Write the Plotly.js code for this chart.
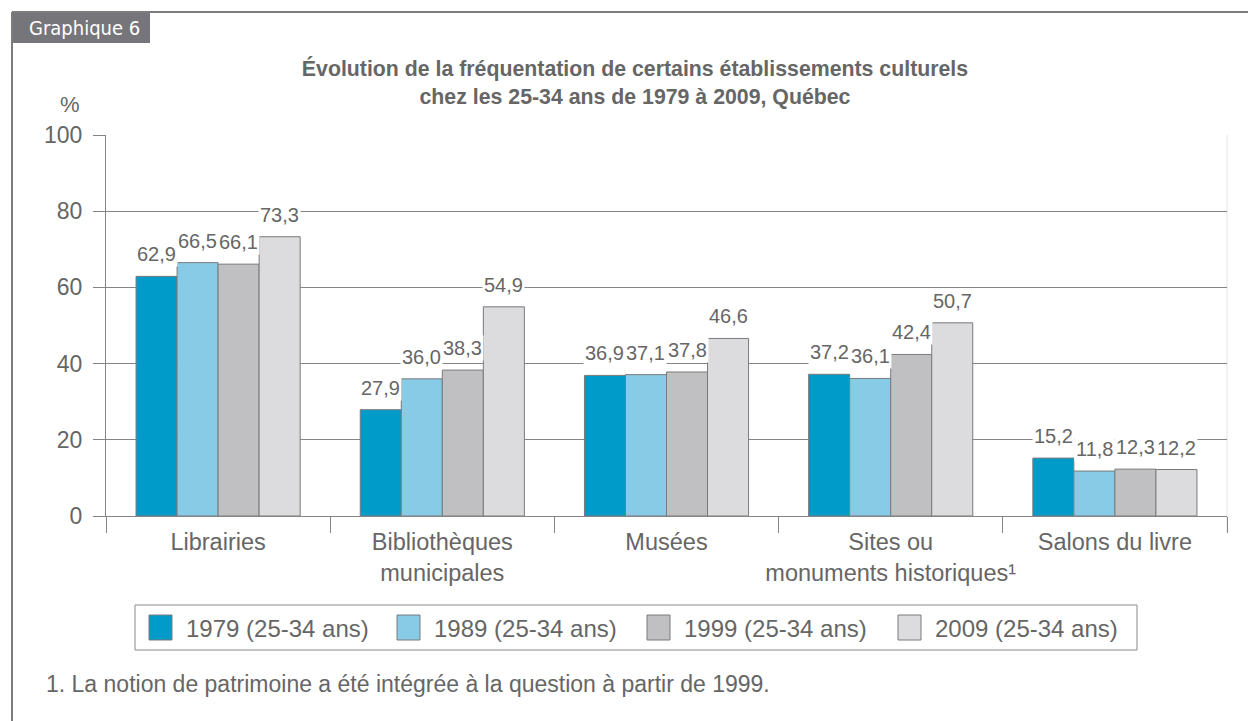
<!DOCTYPE html>
<html>
<head>
<meta charset="utf-8">
<script src="https://cdn.plot.ly/plotly-3.0.1.min.js"></script>
<style>
html,body{margin:0;padding:0;background:#fff;}
#chart{width:1248px;height:721px;}
</style>
</head>
<body>
<div id="chart"></div>
<script>
// ---- data ----
const categories = ['Librairies', 'Bibliothèques<br>municipales', 'Musées', 'Sites ou<br>monuments historiques¹', 'Salons du livre'];
const seriesNames = ['1979 (25-34 ans)', '1989 (25-34 ans)', '1999 (25-34 ans)', '2009 (25-34 ans)'];
const values1979 = [62.9, 27.9, 36.9, 37.2, 15.2];
const values1989 = [66.5, 36.0, 37.1, 36.1, 11.8];
const values1999 = [66.1, 38.3, 37.8, 42.4, 12.3];
const values2009 = [73.3, 54.9, 46.6, 50.7, 12.2];
const yTickVals = [0, 20, 40, 60, 80, 100];
const titleText = 'Évolution de la fréquentation de certains établissements culturels<br>chez les 25-34 ans de 1979 à 2009, Québec';
const footnoteText = '1. La notion de patrimoine a été intégrée à la question à partir de 1999.';
const tabText = 'Graphique 6';

// ---- style ----
const colors = ['#009bc9', '#87cbe6', '#c0c0c2', '#dcdcde'];
const textColor = '#666666';
const lineColor = '#858585';
const FONT = 'Liberation Sans, Arial, Helvetica, sans-serif';
const W = 1248, H = 721;
const M = {l: 106, r: 21, t: 135, b: 205};
const plotW = W - M.l - M.r, plotH = H - M.t - M.b;
const bargap = 0.268;
const allValues = [values1979, values1989, values1999, values2009];

// px -> paper helpers (for decorations only)
const px = x => (x - M.l) / plotW;
const py = y => (H - M.b - y) / plotH;

const traces = allValues.map((vals, i) => ({
  type: 'bar',
  name: seriesNames[i],
  x: categories,
  y: vals,
  marker: {color: colors[i], line: {color: '#7a7a7a', width: 1}},
  hoverinfo: 'x+y+name',
  showlegend: false
}));

// data labels as annotations (white background hides gridlines like the original)
const catW = plotW / categories.length;
const barW = catW * (1 - bargap) / seriesNames.length;
const annotations = [];
allValues.forEach((vals, i) => {
  vals.forEach((v, j) => {
    annotations.push({
      x: categories[j], y: v, xref: 'x', yref: 'y',
      xshift: (i - (seriesNames.length - 1) / 2) * barW,
      yshift: 9,
      yanchor: 'bottom', xanchor: 'center',
      text: v.toFixed(1).replace('.', ','),
      showarrow: false,
      bgcolor: '#ffffff', borderpad: 1,
      font: {family: FONT, size: 20, color: textColor}
    });
  });
});

// % label
annotations.push({xref: 'paper', yref: 'paper', x: px(70), y: py(104), text: '%', showarrow: false,
  xanchor: 'center', yanchor: 'middle', font: {family: FONT, size: 22, color: textColor}});
// tab text
annotations.push({xref: 'paper', yref: 'paper', x: px(84), y: py(28), text: tabText, showarrow: false,
  xanchor: 'center', yanchor: 'middle', font: {family: 'Liberation Sans Narrow, DejaVu Sans Condensed, sans-serif', size: 20, color: '#ffffff'}});
// footnote
annotations.push({xref: 'paper', yref: 'paper', x: px(44), y: py(684), text: footnoteText, showarrow: false,
  xanchor: 'left', yanchor: 'middle', font: {family: FONT, size: 23, color: textColor}});

const shapes = [
  // tab
  {type: 'rect', xref: 'paper', yref: 'paper', x0: px(12), x1: px(150), y0: py(12), y1: py(43),
   fillcolor: '#76767a', line: {width: 0}, layer: 'below'},
  // frame top
  {type: 'line', xref: 'paper', yref: 'paper', x0: px(12), x1: px(1248), y0: py(12), y1: py(12),
   line: {color: '#7c7c7c', width: 2}},
  // frame left
  {type: 'line', xref: 'paper', yref: 'paper', x0: px(12), x1: px(12), y0: py(12), y1: py(721),
   line: {color: '#7c7c7c', width: 2}},
  // faint right border of plot
  {type: 'line', xref: 'paper', yref: 'paper', x0: 1, x1: 1, y0: 1, y1: py(532),
   line: {color: '#e4e4e4', width: 1}, layer: 'below'},
  // legend box
  {type: 'rect', xref: 'paper', yref: 'paper', x0: px(135), x1: px(1137), y0: py(605), y1: py(650),
   fillcolor: 'rgba(0,0,0,0)', line: {color: '#8a8a8a', width: 1}}
];

// custom legend
const legendX = [149, 397, 647, 898];
seriesNames.forEach((name, i) => {
  shapes.push({type: 'rect', xref: 'paper', yref: 'paper',
    x0: px(legendX[i]), x1: px(legendX[i] + 23), y0: py(615), y1: py(640),
    fillcolor: colors[i], line: {color: '#7a7a7a', width: 1}});
  annotations.push({xref: 'paper', yref: 'paper', x: px(legendX[i] + 35), y: py(628), text: name,
    showarrow: false, xanchor: 'left', yanchor: 'middle',
    font: {family: FONT, size: 24, color: textColor}});
});

const layout = {
  width: W, height: H,
  margin: M,
  paper_bgcolor: 'rgba(0,0,0,0)',
  plot_bgcolor: 'rgba(0,0,0,0)',
  barmode: 'group',
  bargap: bargap,
  bargroupgap: 0,
  showlegend: false,
  title: {
    text: titleText,
    xref: 'container', yref: 'container',
    x: 635 / W, xanchor: 'center',
    y: 1 - 76 / H, yanchor: 'middle',
    font: {family: FONT, size: 21.3, color: textColor, weight: 'bold'}
  },
  xaxis: {
    type: 'category',
    tickson: 'boundaries',
    tickangle: 0,
    ticks: 'outside', ticklen: 16, tickcolor: lineColor, tickwidth: 1,
    showline: true, linecolor: lineColor, linewidth: 1,
    showgrid: false,
    ticklabelstandoff: 5,
    tickfont: {family: FONT, size: 23.5, color: textColor},
    fixedrange: true
  },
  yaxis: {
    range: [0, 100],
    tickvals: yTickVals,
    ticktext: yTickVals.map(String),
    ticks: 'outside', ticklen: 12, tickcolor: lineColor, tickwidth: 1,
    showline: true, linecolor: lineColor, linewidth: 1,
    showgrid: true, gridcolor: lineColor, gridwidth: 1,
    zeroline: false,
    ticklabelstandoff: 6,
    tickfont: {family: FONT, size: 23, color: textColor},
    fixedrange: true
  },
  annotations: annotations,
  shapes: shapes
};

Plotly.newPlot('chart', traces, layout, {displayModeBar: false});
</script>
</body>
</html>
